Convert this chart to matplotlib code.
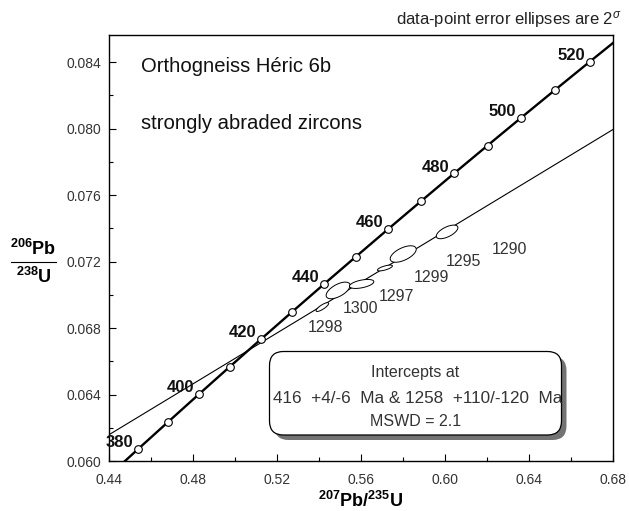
"""
U-Pb concordia diagram — Orthogneiss Héric 6b
"""

import numpy as np
import matplotlib
matplotlib.use("Agg")
import matplotlib.pyplot as plt
import matplotlib.font_manager as fm
from matplotlib.patches import FancyBboxPatch
from matplotlib.lines import Line2D
from matplotlib.transforms import IdentityTransform
from matplotlib.ticker import MultipleLocator, FormatStrFormatter

# ============================================================
# fonts
# ============================================================
_available = {f.name for f in fm.fontManager.ttflist}
SANS = "Liberation Sans" if "Liberation Sans" in _available else "DejaVu Sans"
NARROW = "Liberation Sans Narrow" if "Liberation Sans Narrow" in _available else SANS

plt.rcParams["font.family"] = [SANS, "DejaVu Sans"]
plt.rcParams["mathtext.fontset"] = "custom"
plt.rcParams["mathtext.rm"] = SANS
plt.rcParams["mathtext.bf"] = SANS + ":bold"
plt.rcParams["mathtext.it"] = SANS + ":italic"

# ============================================================
# data
# ============================================================
# concordia, 10 Ma steps (207Pb/235U, 206Pb/238U)
conc_age = [370, 380, 390, 400, 410, 420, 430, 440, 450, 460,
            470, 480, 490, 500, 510, 520, 530]
conc_x = [0.43964, 0.45387, 0.46828, 0.48281, 0.49748, 0.51231, 0.52727,
          0.54239, 0.55766, 0.57307, 0.58864, 0.60436, 0.62024, 0.63628,
          0.65247, 0.66883, 0.68535]
conc_y = [0.059076, 0.060720, 0.062366, 0.064016, 0.065667, 0.067322,
          0.068979, 0.070639, 0.072300, 0.073965, 0.075633, 0.077304,
          0.078975, 0.080650, 0.082328, 0.084007, 0.085691]
labelled_ages = [380, 400, 420, 440, 460, 480, 500, 520]

# discordia (416 / 1258 Ma intercepts) across the plot window
disc_x = [0.44, 0.68]
disc_y = [0.06158, 0.07994]

# analyses: centre, 2-sigma half widths, error correlation
ell_x = [0.5416, 0.5491, 0.5603, 0.5714, 0.5801, 0.6010]
ell_y = [0.06926, 0.07026, 0.07065, 0.07161, 0.07245, 0.07378]
ell_sx = [0.00300, 0.00570, 0.00581, 0.00356, 0.00619, 0.00514]
ell_sy = [0.000265, 0.000500, 0.000270, 0.000175, 0.000495, 0.000410]
ell_rho = [0.82, 0.60, 0.50, 0.70, 0.58, 0.62]

grain_names = ["1298", "1300", "1297", "1299", "1295", "1290"]
grain_label_x = [0.53485, 0.55122, 0.56864, 0.58530, 0.60024, 0.62213]
grain_label_y = [0.06778, 0.06888, 0.06964, 0.07078, 0.07175, 0.07245]

W, H = 629, 511


def fig_xy(px, py):
    """pixel (from top-left) -> figure fraction"""
    return px / W, 1 - py / H


# ============================================================
# figure
# ============================================================
fig = plt.figure(figsize=(W / 100, H / 100), dpi=100)
ax = fig.add_axes([109 / W, (H - 461) / H, 504 / W, 426 / H])

ax.set_xlim(0.44, 0.68)
ax.set_ylim(0.060, 0.060 + 426 * 0.004 / 66.5)

# discordia
ax.plot(disc_x, disc_y, color="black", lw=0.8, zorder=2)

# concordia
ax.plot(conc_x, conc_y, color="black", lw=1.7, zorder=3, solid_capstyle="butt")
mx = [x for a, x in zip(conc_age, conc_x) if 380 <= a <= 520]
my = [y for a, y in zip(conc_age, conc_y) if 380 <= a <= 520]
ax.plot(mx, my, "o", ms=5.5, mfc="white", mec="black", mew=0.8, zorder=5)

for age, x, y in zip(conc_age, conc_x, conc_y):
    if age in labelled_ages:
        ax.annotate(str(age), (x, y), xytext=(-3.4, 1.3), textcoords="offset points",
                    ha="right", va="baseline", fontsize=12, fontweight="bold",
                    color="#111111", annotation_clip=False, zorder=6)

# error ellipses
t = np.linspace(0, 2 * np.pi, 120)
for x0, y0, sx, sy, r in zip(ell_x, ell_y, ell_sx, ell_sy, ell_rho):
    ex = x0 + sx * np.cos(t)
    ey = y0 + sy * (r * np.cos(t) + np.sqrt(1 - r ** 2) * np.sin(t))
    ax.fill(ex, ey, facecolor="white", edgecolor="black", lw=0.7, zorder=4)

for name, x, y in zip(grain_names, grain_label_x, grain_label_y):
    ax.text(x, y, name, fontsize=11.5, family=NARROW, color="#333333",
            ha="left", va="baseline")

# sample title
ax.text(0.4551, 0.08342, "Orthogneiss Héric 6b", fontsize=14.6, color="#111111",
        ha="left", va="baseline")
ax.text(0.4551, 0.07997, "strongly abraded zircons", fontsize=14.6, color="#111111",
        ha="left", va="baseline")

# axes styling
ax.xaxis.set_major_locator(MultipleLocator(0.04))
ax.xaxis.set_minor_locator(MultipleLocator(0.02))
ax.yaxis.set_major_locator(MultipleLocator(0.004))
ax.yaxis.set_minor_locator(MultipleLocator(0.002))
ax.xaxis.set_major_formatter(FormatStrFormatter("%.2f"))
ax.yaxis.set_major_formatter(FormatStrFormatter("%.3f"))
ax.tick_params(which="both", direction="in", top=False, right=False,
               width=0.8, color="black")
ax.tick_params(which="major", length=5, labelsize=10, labelcolor="#333333")
ax.tick_params(which="minor", length=3)
ax.tick_params(axis="x", pad=8.5)
ax.tick_params(axis="y", pad=5.8)
for s in ax.spines.values():
    s.set_linewidth(1.0)

# axis labels
fx, fy = fig_xy(361, 507)
fig.text(fx, fy, r"$\mathbf{^{207}Pb/^{235}U}$", fontsize=13, ha="center", va="baseline")
fx, fy = fig_xy(33, 255)
fig.text(fx, fy, r"$\mathbf{^{206}Pb}$", fontsize=13, ha="center", va="baseline")
fx, fy = fig_xy(34, 283)
fig.text(fx, fy, r"$\mathbf{^{238}U}$", fontsize=13, ha="center", va="baseline")
x0, yl = fig_xy(11, 261.5)
x1, _ = fig_xy(56, 261.5)
fig.add_artist(Line2D([x0, x1], [yl, yl], color="black", lw=0.8))

fx, fy = fig_xy(622, 24)
fig.text(fx, fy, r"data-point error ellipses are 2$^{\sigma}$", fontsize=12,
         color="#222222", ha="right", va="baseline")

# intercept box with drop shadow (pixel coordinates)
bx, by, bw, bh = 269.5, H - 435, 292, 83.5
shadow = FancyBboxPatch((bx + 5, by - 5), bw, bh,
                        boxstyle="round,pad=0,rounding_size=14",
                        transform=IdentityTransform(), facecolor="#737373",
                        edgecolor="none", zorder=10)
box = FancyBboxPatch((bx, by), bw, bh, boxstyle="round,pad=0,rounding_size=14",
                     transform=IdentityTransform(), facecolor="white",
                     edgecolor="black", lw=0.9, zorder=11)
fig.add_artist(shadow)
fig.add_artist(box)

lines = [
    (415.5, 377, "center", 11.5, "Intercepts at"),
    (273, 403, "left", 12.3, "416  +4/-6  Ma & 1258  +110/-120  Ma"),
    (415.5, 426, "center", 11.5, "MSWD = 2.1"),
]
for px, py, ha, size, s in lines:
    fx, fy = fig_xy(px, py)
    txt = fig.text(fx, fy, s, fontsize=size, color="#333333", ha=ha,
                   va="baseline", zorder=12)
    txt.set_clip_path(box)

fig.savefig("out.png", dpi=100)
plt.close(fig)
